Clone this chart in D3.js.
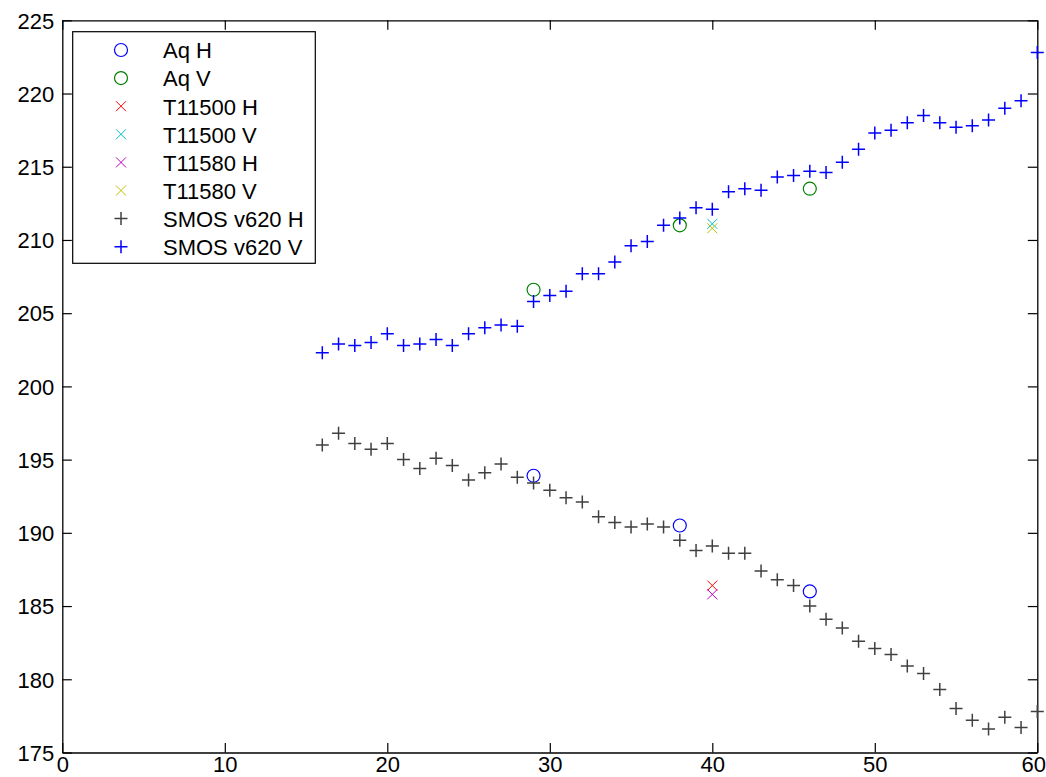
<!DOCTYPE html>
<html>
<head>
<meta charset="utf-8">
<script src="https://cdn.jsdelivr.net/npm/d3@7/dist/d3.min.js"></script>
<style>
  html, body { margin: 0; padding: 0; background: #fff; }
  svg { display: block; }
  text { font-family: "Liberation Sans", Arial, Helvetica, sans-serif; }
</style>
</head>
<body>
<svg id="chart" width="1046" height="777"></svg>
<script>
// Incidence angle (deg) for the SMOS profiles
const smosAngle = [16, 17, 18, 19, 20, 21, 22, 23, 24, 25, 26, 27, 28, 29, 30,
  31, 32, 33, 34, 35, 36, 37, 38, 39, 40, 41, 42, 43, 44, 45,
  46, 47, 48, 49, 50, 51, 52, 53, 54, 55, 56, 57, 58, 59, 60];
// SMOS v620 brightness temperature (K), H polarisation
const smosH = [196.0, 196.8, 196.1, 195.7, 196.1, 195.0, 194.4, 195.1, 194.6, 193.6,
  194.1, 194.7, 193.8, 193.4, 192.9, 192.4, 192.1, 191.1, 190.7, 190.4,
  190.6, 190.4, 189.5, 188.8, 189.1, 188.6, 188.6, 187.4, 186.8, 186.4,
  185.0, 184.1, 183.5, 182.6, 182.1, 181.7, 180.9, 180.4, 179.3, 178.0,
  177.2, 176.6, 177.4, 176.7, 177.8];
// SMOS v620 brightness temperature (K), V polarisation
const smosV = [202.3, 202.9, 202.8, 203.0, 203.6, 202.8, 202.9, 203.2, 202.8, 203.6,
  204.0, 204.2, 204.1, 205.8, 206.2, 206.5, 207.7, 207.7, 208.5, 209.6,
  209.9, 211.0, 211.5, 212.2, 212.1, 213.3, 213.5, 213.4, 214.3, 214.4,
  214.7, 214.6, 215.3, 216.2, 217.3, 217.5, 218.0, 218.5, 218.0, 217.7,
  217.8, 218.2, 219.0, 219.5, 222.8];
// Aquarius beams
const aqAngle = [29, 38, 46];
const aqH = [193.9, 190.5, 186.0];
const aqV = [206.6, 211.0, 213.5];
// Tower measurements
const towerAngle = [40];
const t11500H = [186.4];
const t11500V = [211.1];
const t11580H = [185.8];
const t11580V = [210.8];

const xTicks = [0, 10, 20, 30, 40, 50, 60];
const yTicks = [175, 180, 185, 190, 195, 200, 205, 210, 215, 220, 225];

const series = [
  { name: "Aq H", x: aqAngle, y: aqH, shape: "circle", color: "#0000ff" },
  { name: "Aq V", x: aqAngle, y: aqV, shape: "circle", color: "#008000" },
  { name: "T11500 H", x: towerAngle, y: t11500H, shape: "cross", color: "#ff0000" },
  { name: "T11500 V", x: towerAngle, y: t11500V, shape: "cross", color: "#00bfbf" },
  { name: "T11580 H", x: towerAngle, y: t11580H, shape: "cross", color: "#bf00bf" },
  { name: "T11580 V", x: towerAngle, y: t11580V, shape: "cross", color: "#bfbf00" },
  { name: "SMOS v620 H", x: smosAngle, y: smosH, shape: "plus", color: "#404040" },
  { name: "SMOS v620 V", x: smosAngle, y: smosV, shape: "plus", color: "#0000ff" }
];

const width = 1046;
const svg = d3.select("#chart");
const plot = { left: 62.3, right: 1037.3, top: 20.3, bottom: 752.5 };

const x = d3.scaleLinear().domain([0, 60]).range([plot.left, plot.right]);
const y = d3.scaleLinear().domain([175, 225]).range([plot.bottom, plot.top]);

const tickLen = 9.5;
const fontSize = 22;

// Axes: ticks point inward, labels on left and bottom only
const axisLeft = d3.axisLeft(y).tickValues(yTicks).tickFormat(d3.format("d"))
  .tickSize(-tickLen).tickSizeOuter(0).tickPadding(8);
const axisBottom = d3.axisBottom(x).tickValues(xTicks).tickFormat(d3.format("d"))
  .tickSize(-tickLen).tickSizeOuter(0).tickPadding(10);
const axisRight = d3.axisRight(y).tickValues(yTicks).tickFormat("")
  .tickSize(-tickLen).tickSizeOuter(0);
const axisTop = d3.axisTop(x).tickValues(xTicks).tickFormat("")
  .tickSize(-tickLen).tickSizeOuter(0);

function styleAxis(g) {
  g.selectAll("path.domain").attr("stroke", "#000").attr("stroke-width", 1.3);
  g.selectAll(".tick line").attr("stroke", "#000").attr("stroke-width", 1.2);
  g.selectAll(".tick text").attr("fill", "#000")
    .style("font-size", fontSize + "px")
    .style("font-family", "'Liberation Sans', Arial, sans-serif");
}

svg.append("g").attr("transform", `translate(${plot.left},0)`).call(axisLeft).call(styleAxis)
  .selectAll(".tick text").attr("dy", null).attr("y", 7.8);

const gBottom = svg.append("g").attr("transform", `translate(0,${plot.bottom})`)
  .call(axisBottom).call(styleAxis);
gBottom.selectAll(".tick text").attr("dy", null).attr("y", 19);
// keep the last label inside the page edge
gBottom.selectAll(".tick text").each(function (d) {
  const t = d3.select(this);
  const half = this.getComputedTextLength() / 2;
  const over = x(d) + half - width;
  if (over > 0) t.attr("x", -over - 0.5);
});

svg.append("g").attr("transform", `translate(${plot.right},0)`).call(axisRight).call(styleAxis);
svg.append("g").attr("transform", `translate(0,${plot.top})`).call(axisTop).call(styleAxis);

// Marker shapes
function markerPath(shape) {
  if (shape === "plus") return "M-6.5,0H6.5M0,-6.5V6.5";
  if (shape === "cross") return "M-5,-5L5,5M-5,5L5,-5";
  return null;
}

function drawMarker(sel, shape, color) {
  if (shape === "circle") {
    sel.append("circle").attr("r", 6.5).attr("fill", "none")
      .attr("stroke", color).attr("stroke-width", 1.2);
  } else {
    sel.append("path").attr("d", markerPath(shape)).attr("fill", "none")
      .attr("stroke", color).attr("stroke-width", shape === "plus" ? 1.5 : 1);
  }
}

const marks = svg.append("g");
series.forEach(s => {
  const pts = s.x.map((xv, i) => [xv, s.y[i]]);
  marks.append("g").selectAll("g").data(pts).join("g")
    .attr("transform", d => `translate(${x(d[0])},${y(d[1])})`)
    .each(function () { drawMarker(d3.select(this), s.shape, s.color); });
});

// Legend
const legend = svg.append("g");
legend.append("rect")
  .attr("x", 72.7).attr("y", 31.7).attr("width", 242.6).attr("height", 231.6)
  .attr("fill", "#fff").attr("stroke", "#000").attr("stroke-width", 1.2);
const rowH = 28.1;
series.forEach((s, i) => {
  const cy = 50 + i * rowH;
  const g = legend.append("g").attr("transform", `translate(121,${cy})`);
  drawMarker(g, s.shape, s.color);
  legend.append("text").attr("x", 163).attr("y", cy + 8.3)
    .attr("fill", "#000").style("font-size", fontSize + "px").text(s.name);
});
</script>
</body>
</html>
